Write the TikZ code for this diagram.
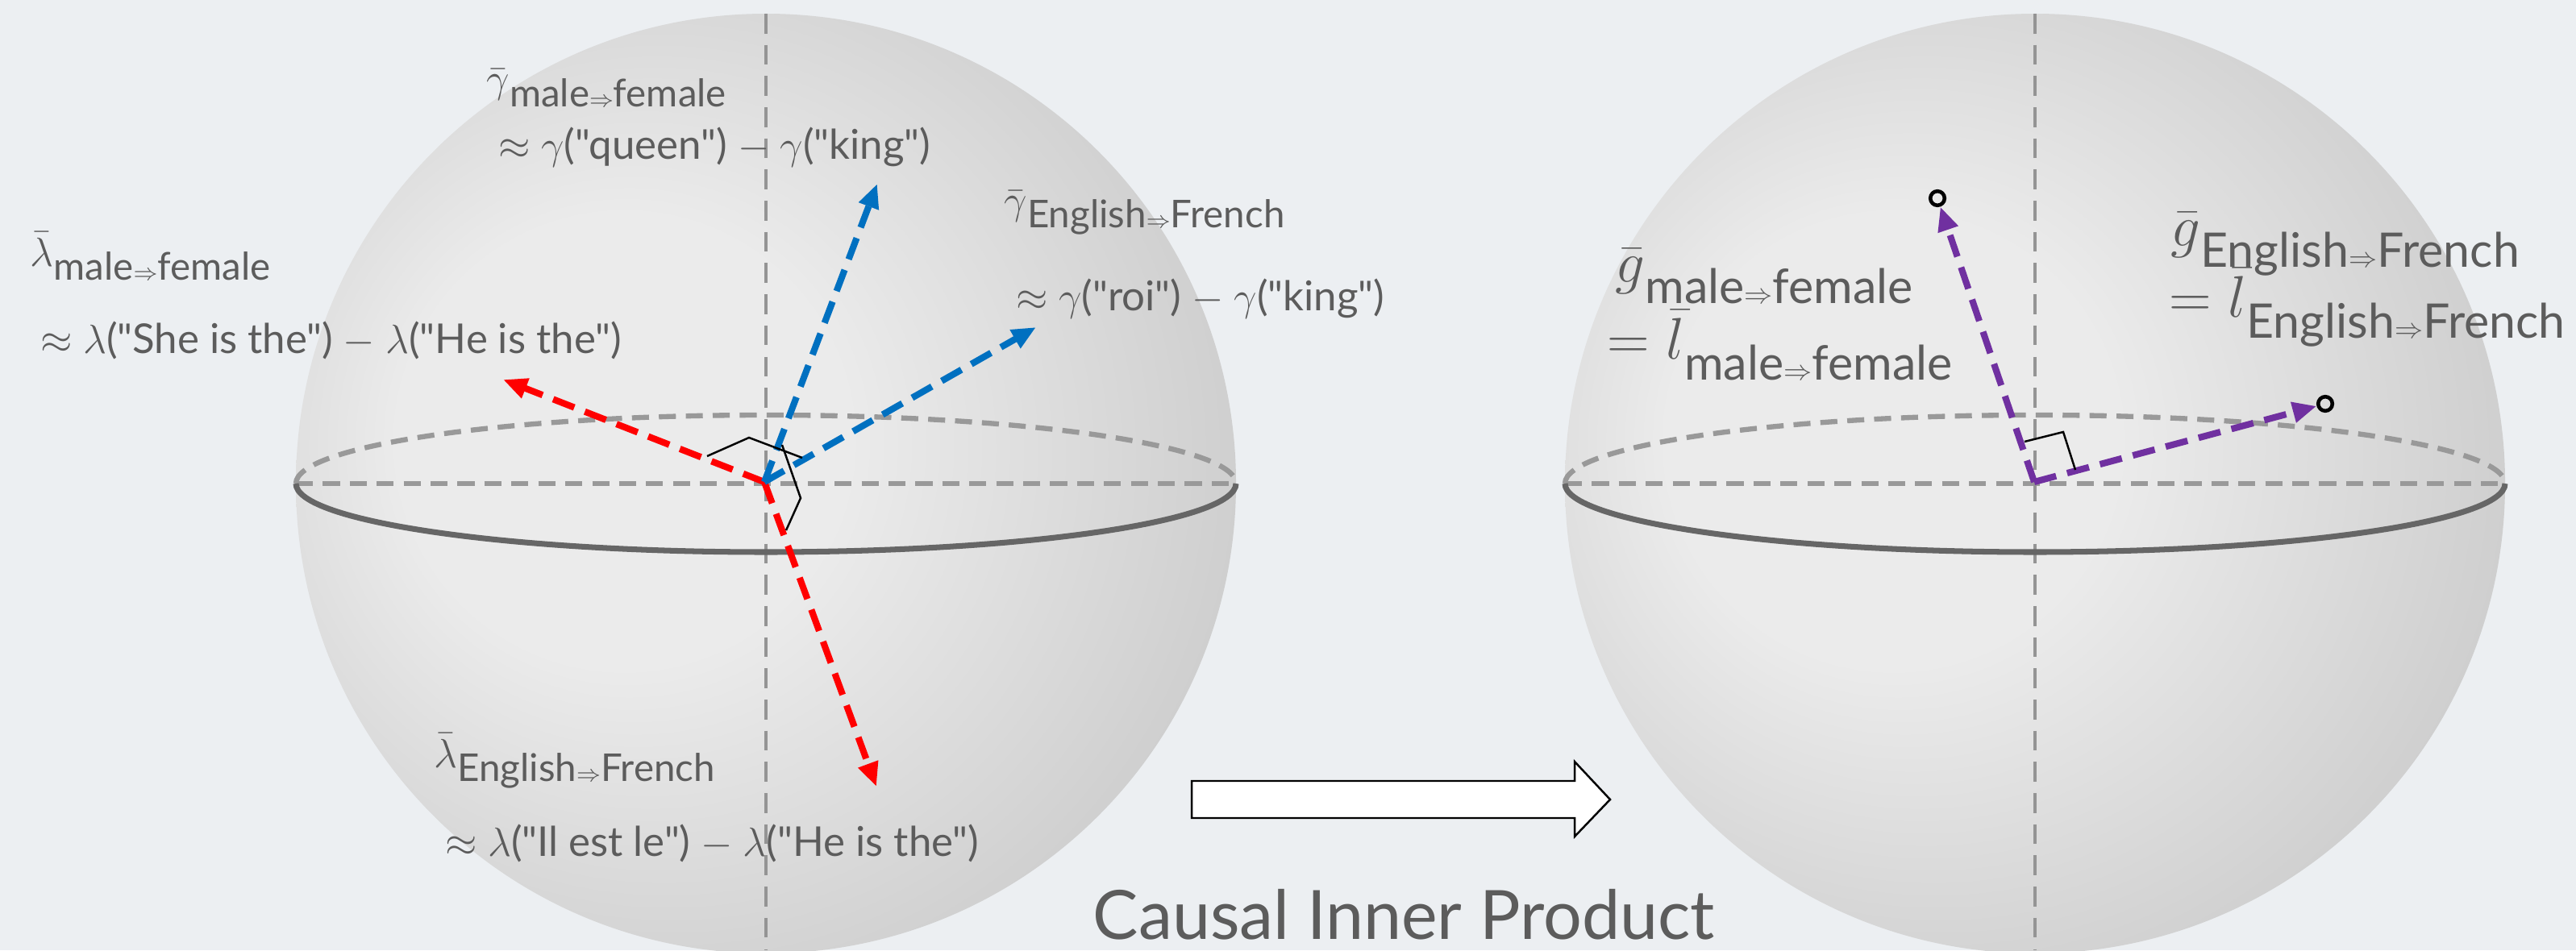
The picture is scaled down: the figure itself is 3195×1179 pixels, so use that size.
\documentclass[tikz,border=0pt]{standalone}
\usepackage{amsmath}
\usepackage{fontspec}
\setmainfont{Lato}
\newfontfamily\latoplain{Lato}
\usetikzlibrary{arrows.meta}

\definecolor{backdrop}{RGB}{236,239,242}
\definecolor{labelgray}{RGB}{92,92,92}
\definecolor{globein}{RGB}{235,235,235}
\definecolor{globemid}{RGB}{206,206,206}
\definecolor{globedark}{RGB}{180,180,180}
\definecolor{globeout}{RGB}{150,150,150}
\definecolor{vecred}{RGB}{255,0,0}
\definecolor{vecblue}{RGB}{0,112,192}
\definecolor{vecpurple}{RGB}{112,48,160}
\pgfdeclareradialshading{globe}{\pgfpoint{-10bp}{3bp}}{color(0bp)=(globein); color(12bp)=(globein); color(30bp)=(globemid); color(42bp)=(globedark); color(50bp)=(globeout)}

% lowered subscripts as the slide sets them
\newcommand{\smallsub}[2]{\raisebox{-5pt}{\fontsize{13.5}{15}\selectfont #1{\fontsize{8}{8}\selectfont$\Rightarrow$}#2}}
\newcommand{\largesub}[2]{\raisebox{-7.5pt}{\fontsize{16.8}{19}\selectfont #1{\fontsize{10}{10}\selectfont$\Rightarrow$}#2}}

\begin{document}
\begin{tikzpicture}[x=0.01cm, y=-0.01cm, >={Triangle[length=8.5pt, width=7pt]},
	tagtext/.style={text=labelgray, inner sep=0pt, anchor=base west, font=\latoplain\fontsize{14.5}{17}\selectfont},
	bigtagtext/.style={tagtext, font=\latoplain\fontsize{20}{22}\selectfont},
	globeaxis/.style={draw=black!42, line width=1.1pt, dash pattern=on 7pt off 4pt},
	eqback/.style={draw=black!40, line width=1.8pt, dash pattern=on 6pt off 3.5pt},
	eqfront/.style={draw=black!60, line width=2pt},
	vector/.style={->, line width=2.3pt, dash pattern=on 8pt off 4pt},
	rightmark/.style={black, line width=0.7pt},
	tipring/.style={circle, draw=black, line width=1.3pt, minimum size=5pt, inner sep=0pt}]
	\fill[backdrop] (0,0) rectangle (3195,1179);
	\useasboundingbox (0,0) rectangle (3195,1179);
	\clip (0,0) rectangle (3195,1179);

	% the two spheres with their equators
	\foreach \cx in {950,2524} {
		\shade[shading=globe] (\cx,600) circle[radius=583];
		\draw[eqback] (\cx-583,600) arc[start angle=180, end angle=360, x radius=583, y radius=85];
		\draw[eqback] (\cx-583,600) -- (\cx+583,600);
		\draw[globeaxis] (\cx,17) -- (\cx,1179);
		\draw[eqfront] (\cx+583,600) arc[start angle=0, end angle=180, x radius=583, y radius=85];
	}

	% left: estimated directions
	\coordinate (o1) at (948,598);
	\coordinate (blueup) at (1088,228);
	\coordinate (blueside) at (1285,406);
	\coordinate (redup) at (624,471);
	\coordinate (reddown) at (1087,976);
	\draw[vector, vecred] (o1) -- (redup);
	\draw[vector, vecred] (o1) -- (reddown);
	\draw[vector, vecblue] (o1) -- (blueup);
	\draw[vector, vecblue] (o1) -- (blueside);
	\draw[rightmark] (877,566) -- (929,543) -- (995,568);
	\draw[rightmark] (970,552) -- (993,618) -- (975,658);

	\node[tagtext] (gammamf) at (603,115) {$\bar{\gamma}$\smallsub{male}{female}};
	\node[tagtext] (gammamfdiff) at (618,198) {$\approx$ $\gamma$("queen") $-$ $\gamma$("king")};
	\node[tagtext] (gammaef) at (1245,265) {$\bar{\gamma}$\smallsub{English}{French}};
	\node[tagtext] (gammaefdiff) at (1260,385) {$\approx$ $\gamma$("roi") $-$ $\gamma$("king")};
	\node[tagtext] (lambdamf) at (37,330) {$\bar{\lambda}$\smallsub{male}{female}};
	\node[tagtext] (lambdamfdiff) at (50,438) {$\approx$ $\lambda$("She is the") $-$ $\lambda$("He is the")};
	\node[tagtext] (lambdaef) at (538,952) {$\bar{\lambda}$\smallsub{English}{French}};
	\node[tagtext] (lambdaefdiff) at (552,1062) {$\approx$ $\lambda$("Il est le") $-$ $\lambda$("He is the")};

	% right: unified directions
	\coordinate (o2) at (2523,598);
	\node[tipring] (ringmf) at (2403,246) {};
	\node[tipring] (ringef) at (2884,501) {};
	\draw[vector, vecpurple] (o2) -- (ringmf);
	\draw[vector, vecpurple] (o2) -- (ringef);
	\draw[rightmark] (2511,548) -- (2559,536) -- (2574,583);

	\node[bigtagtext] (gmf) at (2003,350) {$\bar{g}$\largesub{male}{female}};
	\node[bigtagtext] (lmf) at (1993,445) {$=\bar{l}$\largesub{male}{female}};
	\node[bigtagtext] (gef) at (2692,305) {$\bar{g}$\largesub{English}{French}};
	\node[bigtagtext] (lef) at (2690,393) {$=\bar{l}$\largesub{English}{French}};

	% block arrow and caption
	\draw[fill=white, line width=0.7pt] (1478,969) -- (1953,969) -- (1953,945) -- (1997,992) -- (1953,1038) -- (1953,1015) -- (1478,1015) -- cycle;
	\node[tagtext, font=\latoplain\fontsize{24}{28}\selectfont] (causal) at (1355,1165) {Causal Inner Product};
\end{tikzpicture}
\end{document}
